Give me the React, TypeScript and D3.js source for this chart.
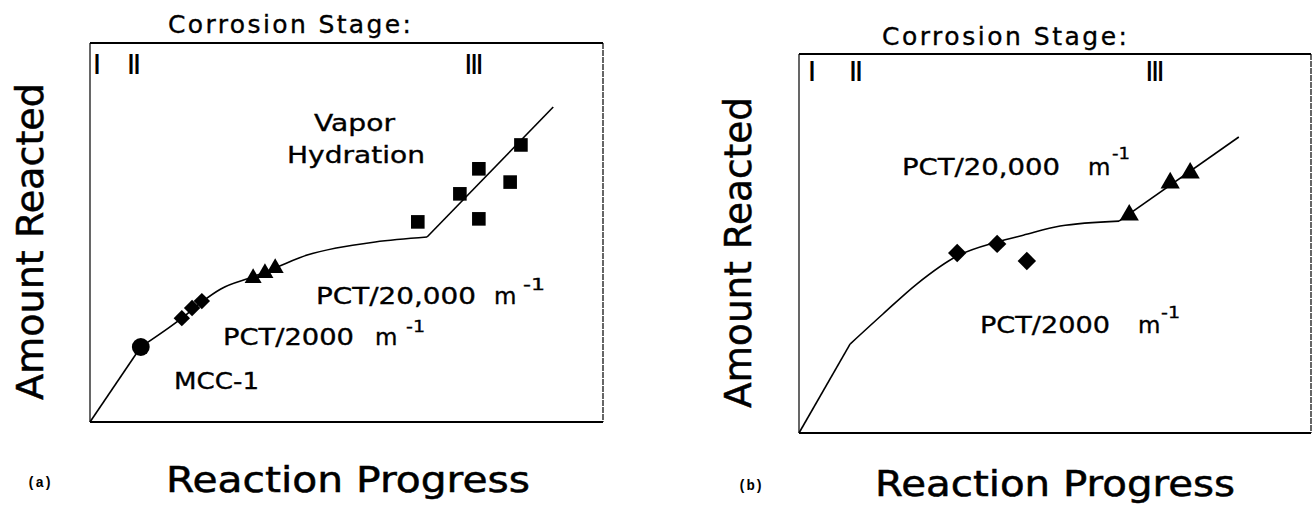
import React from "react";
import * as d3 from "d3";

// panel (a) data, in relative units 0..100 of the frame
const curveA: [number, number][] = [
  [0, 0], [9.9, 19.8], [17.9, 27.4], [21.8, 31.7], [25.5, 35.1], [31.8, 38.3],
  [36.5, 40.9], [42.5, 44.1], [48.0, 45.9], [55.6, 47.5], [65.7, 48.8], [90.3, 83.1],
];
const mccA: [number, number][] = [[9.9, 19.8]];
const pct2000A: [number, number][] = [[17.9, 27.4], [19.9, 30.1], [21.8, 31.9]];
const pct20000A: [number, number][] = [[31.8, 38.0], [34.1, 39.3], [36.1, 40.6]];
const vaporA: [number, number][] = [
  [63.9, 52.8], [72.1, 60.2], [75.8, 66.8], [75.8, 53.6], [81.9, 63.3], [84.0, 73.1],
];

// panel (b) data
const curveB: [number, number][] = [
  [0, 0], [10.0, 23.5], [16.4, 31.4], [23.0, 39.3], [30.9, 46.7], [38.7, 50.4],
  [43.8, 52.2], [51.0, 54.6], [62.5, 55.9], [85.9, 78.1],
];
const pct2000B: [number, number][] = [[30.9, 47.5], [38.7, 49.9], [44.5, 45.4]];
const pct20000B: [number, number][] = [[64.5, 57.5], [72.5, 66.0], [76.4, 68.6]];

const stages = ["I", "II", "III"];

const FONT = "'DejaVu Sans', Verdana, sans-serif";

type Lbl = { t: string; x: number; y: number; w?: number; fs?: number };

function Panel({ box, curve, series, labels, stageX, stageY, title, ylab, xlab, tag }: any) {
  const x = d3.scaleLinear().domain([0, 100]).range([box.left, box.right]);
  const y = d3.scaleLinear().domain([0, 100]).range([box.bottom, box.top]);
  const straight = d3.line<[number, number]>().x((d) => x(d[0])).y((d) => y(d[1]));
  const smooth = d3.line<[number, number]>().x((d) => x(d[0])).y((d) => y(d[1])).curve(d3.curveMonotoneX);
  const n = curve.length;
  // straight start, smooth middle, straight end
  const pieces = [
    straight(curve.slice(0, 2)),
    smooth(curve.slice(1, n - 1)),
    straight(curve.slice(n - 2)),
  ];

  const txt = { fontFamily: FONT, stroke: "#000", strokeWidth: 0.35 };

  return (
    <g>
      {/* frame */}
      <line x1={box.left} x2={box.right} y1={box.top} y2={box.top} stroke="#000" strokeWidth={2} />
      <line x1={box.left} x2={box.right} y1={box.bottom} y2={box.bottom} stroke="#000" strokeWidth={2.2} />
      <line x1={box.left} x2={box.left} y1={box.top} y2={box.bottom} stroke="#000" strokeWidth={1.2} />
      <line x1={box.right} x2={box.right} y1={box.top} y2={box.bottom} stroke="#000" strokeWidth={1.2} strokeDasharray="6 1" />

      {pieces.map((p, i) => (
        <path key={i} d={p || ""} fill="none" stroke="#000" strokeWidth={1.6} />
      ))}

      {series.map((s: any, i: number) =>
        s.data.map((d: [number, number], j: number) => (
          <path
            key={i + "-" + j}
            d={d3.symbol().type(s.type).size(s.size)() || ""}
            transform={`translate(${x(d[0])},${y(d[1])})${s.rotate ? " rotate(45)" : ""}`}
            fill="#000"
          />
        ))
      )}

      {/* corrosion stage */}
      <text x={title.x} y={title.y} {...txt} fontSize={25} textLength={title.w} lengthAdjust="spacing">
        Corrosion Stage:
      </text>
      {stages.map((s, i) => (
        <text
          key={s}
          x={stageX[i]}
          y={stageY}
          textAnchor="middle"
          fontFamily="'DejaVu Sans Condensed', 'DejaVu Sans', sans-serif"
          fontWeight="bold"
          fontSize={26}
          textLength={[6, 12, 17][i]}
          lengthAdjust="spacingAndGlyphs"
        >
          {s}
        </text>
      ))}

      {labels.map((l: Lbl, i: number) => (
        <text
          key={i}
          x={l.x}
          y={l.y}
          {...txt}
          fontSize={l.fs || 23}
          textLength={l.w}
          lengthAdjust={l.w ? "spacingAndGlyphs" : undefined}
        >
          {l.t}
        </text>
      ))}

      <text
        transform={`translate(${ylab.x},${ylab.y}) rotate(-90)`}
        {...txt}
        strokeWidth={0.5}
        fontSize={37}
        textLength={ylab.w}
        lengthAdjust="spacingAndGlyphs"
      >
        Amount Reacted
      </text>
      <text x={xlab.x} y={xlab.y} {...txt} strokeWidth={0.5} fontSize={35} textLength={xlab.w} lengthAdjust="spacingAndGlyphs">
        Reaction  Progress
      </text>
      <text x={tag.x} y={tag.y} fontFamily="'Liberation Mono', monospace" fontWeight="bold" fontSize={14}>
        {tag.t}
      </text>
    </g>
  );
}

export default function App() {
  return (
    <svg width={1314} height={508} style={{ position: "absolute", left: 0, top: 0, background: "#fff" }}>
      <rect width={1314} height={508} fill="#fff" />
      <Panel
        box={{ left: 90, right: 603, top: 43, bottom: 422 }}
        curve={curveA}
        series={[
          { data: mccA, type: d3.symbolCircle, size: 250 },
          { data: pct2000A, type: d3.symbolSquare, size: 135, rotate: true },
          { data: pct20000A, type: d3.symbolTriangle, size: 125 },
          { data: vaporA, type: d3.symbolSquare, size: 185 },
        ]}
        labels={[
          { t: "Vapor", x: 314, y: 131, w: 81 },
          { t: "Hydration", x: 287, y: 163, w: 138 },
          { t: "PCT/20,000", x: 316, y: 304, w: 160 },
          { t: "m", x: 494, y: 304 },
          { t: "-1", x: 523, y: 290, fs: 16, w: 22 },
          { t: "PCT/2000", x: 223, y: 345, w: 131 },
          { t: "m", x: 375, y: 345 },
          { t: "-1", x: 406, y: 332, fs: 16, w: 19 },
          { t: "MCC-1", x: 174, y: 389, w: 85 },
        ]}
        stageX={[97, 134, 474]}
        stageY={74}
        title={{ x: 168, y: 33, w: 243 }}
        ylab={{ x: 43, y: 400, w: 317 }}
        xlab={{ x: 166, y: 492, w: 364 }}
        tag={{ t: "(a)", x: 27, y: 487 }}
      />
      <Panel
        box={{ left: 799, right: 1311, top: 54, bottom: 433 }}
        curve={curveB}
        series={[
          { data: pct2000B, type: d3.symbolSquare, size: 170, rotate: true },
          { data: pct20000B, type: d3.symbolTriangle, size: 160 },
        ]}
        labels={[
          { t: "PCT/20,000", x: 902, y: 175, w: 158 },
          { t: "m", x: 1088, y: 175 },
          { t: "-1", x: 1112, y: 159, fs: 16, w: 18 },
          { t: "PCT/2000", x: 980, y: 333, w: 130 },
          { t: "m", x: 1138, y: 333 },
          { t: "-1", x: 1161, y: 318, fs: 16, w: 19 },
        ]}
        stageX={[812, 856, 1155]}
        stageY={81}
        title={{ x: 882, y: 45, w: 245 }}
        ylab={{ x: 751, y: 408, w: 311 }}
        xlab={{ x: 875, y: 496, w: 360 }}
        tag={{ t: "(b)", x: 738, y: 490 }}
      />
    </svg>
  );
}
